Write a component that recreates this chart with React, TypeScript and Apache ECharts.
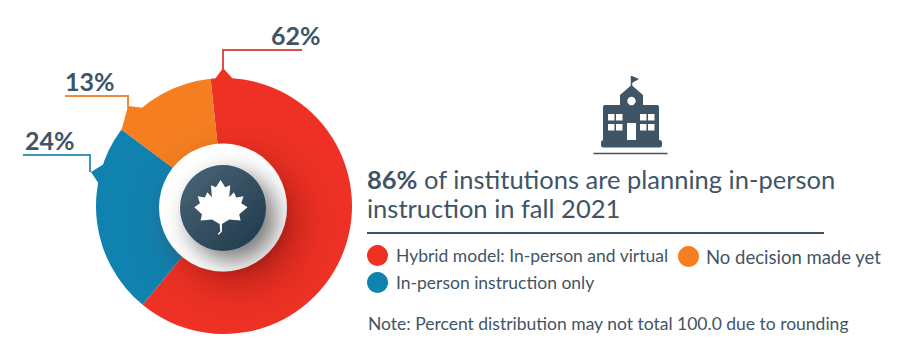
import React, { useEffect, useRef } from "react";
import * as echarts from "echarts";

const categories = ["Hybrid model: In-person and virtual", "In-person instruction only", "No decision made yet"];
const values = [62, 24, 13];
const colors = ["#ee3124", "#1082b0", "#f57e20"];
const lineColors = ["#d9534a", "#3a95b8", "#ee8a3c"];
const headline = ["86%", " of institutions are planning in-person", "instruction in fall 2021"];
const note = "Note: Percent distribution may not total 100.0 due to rounding";

const SLATE = "#3f5566";
const FONT = "Lato";

const leafPts: number[][] = [
  [212, 90], [226, 112], [241, 106], [238, 142], [252, 127], [259, 143], [281, 139], [274, 160], [293, 172], [268, 193],
  [272, 212], [238, 209], [216, 222], [216, 245], [206, 255], [204, 251], [211, 245], [209, 222],
  [186, 209], [152, 212], [156, 193], [133, 172], [150, 160], [143, 139], [165, 143], [172, 127], [186, 142], [183, 106], [198, 112],
];
const leafD = "M" + leafPts.map((p) => p.join(" ")).join("L") + "Z";
echarts.graphic.registerShape("mapleLeaf", echarts.graphic.extendPath(leafD, {}) as any);

const anchors = [
  { x: 271, y: 22, pts: [[223, 70], [223, 50], [302, 50]] },
  { x: 25, y: 127, pts: [[90, 172], [90, 155], [23, 155]] },
  { x: 65, y: 68, pts: [[128, 108], [128, 96], [65, 96]] },
];

const tips = [
  { pts: [[215, 79], [223, 68], [233, 79]], c: colors[0] },
  { pts: [[91, 172], [104, 164], [99, 184]], c: colors[1] },
  { pts: [[128, 106], [144, 108], [121, 132]], c: colors[2] },
];

function winRects(xs: number[], ys: number[]) {
  const out: any[] = [];
  xs.forEach((x) => ys.forEach((y) => out.push({ type: "rect", z: 11, shape: { x, y, width: 6.5, height: 6.5 }, style: { fill: "#fff" } })));
  return out;
}

export default function App() {
  const ref = useRef<HTMLDivElement>(null);
  useEffect(() => {
    const chart = echarts.init(ref.current!, null, { renderer: "svg" });
    chart.setOption({
      animation: false,
      backgroundColor: "#fff",
      color: colors,
      textStyle: { fontFamily: FONT },
      title: {
        left: 367,
        top: 164,
        padding: 0,
        text: `{b|${headline[0]}}{n|${headline[1]}}\n{n|${headline[2]}}`,
        textStyle: {
          fontWeight: "normal",
          rich: {
            b: { fontFamily: FONT, fontWeight: "bold", fontSize: 25.5, lineHeight: 29, color: SLATE },
            n: { fontFamily: FONT, fontWeight: "normal", fontSize: 25.5, lineHeight: 29, color: SLATE },
          },
        },
      },
      legend: [
        {
          left: 367, top: 245, padding: 0, orient: "vertical", itemWidth: 21, itemHeight: 21, itemGap: 6, icon: "circle",
          data: [categories[0], categories[1]],
          textStyle: { fontFamily: FONT, fontSize: 17.5, color: SLATE, padding: [0, 0, 0, 3] },
        },
        {
          left: 678, top: 246, padding: 0, orient: "vertical", itemWidth: 21, itemHeight: 21, icon: "circle",
          data: [categories[2]],
          textStyle: { fontFamily: FONT, fontSize: 18.5, color: SLATE, padding: [0, 0, 0, 2] },
        },
      ],
      series: [
        {
          type: "pie",
          center: [224, 206],
          radius: [0, 128],
          startAngle: 96,
          clockwise: true,
          silent: true,
          data: categories.map((name, i) => ({
            name,
            value: values[i],
            labelLine: { lineStyle: { color: lineColors[i], width: 2 } },
          })),
          label: { show: true, position: "outside", overflow: "none", formatter: "{c}%", fontFamily: FONT, fontWeight: "bold", fontSize: 25, color: SLATE },
          labelLine: { show: true, lineStyle: { width: 2 } },
          labelLayout: (p: any) => {
            const a = anchors[p.dataIndex];
            return { x: a.x, y: a.y, align: "left", verticalAlign: "top", labelLinePoints: a.pts };
          },
          itemStyle: { borderWidth: 0 },
          emphasis: { disabled: true },
        },
      ],
      graphic: [
        ...tips.map((t) => ({ type: "polygon", z: 9, shape: { points: t.pts }, style: { fill: t.c } })),
        { type: "circle", z: 10, shape: { cx: 223, cy: 207.5, r: 64 }, style: { fill: "#fff", shadowBlur: 40, shadowColor: "rgba(90,10,5,0.35)", shadowOffsetX: 14, shadowOffsetY: 14 } },
        { type: "circle", z: 11, shape: { cx: 223, cy: 208, r: 43 }, style: { fill: { type: "linear", x: 0, y: 0, x2: 1, y2: 1, colorStops: [{ offset: 0, color: "#4b6678" }, { offset: 1, color: "#20384a" }] }, shadowBlur: 24, shadowColor: "rgba(0,0,0,0.55)", shadowOffsetX: 10, shadowOffsetY: 10 } },
        { type: "mapleLeaf", z: 12, x: 150, y: 150, scaleX: 1 / 3, scaleY: 1 / 3, style: { fill: "#fff" } },
        // school icon
        { type: "rect", z: 10, shape: { x: 603, y: 105, width: 56, height: 41, r: 2 }, style: { fill: SLATE } },
        { type: "rect", z: 10, shape: { x: 601, y: 140, width: 61, height: 7.5, r: 2.5 }, style: { fill: SLATE } },
        { type: "polygon", z: 10, shape: { points: [[620, 106], [620, 95], [631.5, 85], [643, 95], [643, 106]] }, style: { fill: SLATE } },
        { type: "line", z: 10, shape: { x1: 631.5, y1: 86, x2: 631.5, y2: 76 }, style: { stroke: SLATE, lineWidth: 1.5 } },
        { type: "polygon", z: 10, shape: { points: [[632, 76], [639, 79], [632, 83]] }, style: { fill: SLATE } },
        { type: "circle", z: 11, shape: { cx: 631.5, cy: 101, r: 4.2 }, style: { fill: "#fff" } },
        ...winRects([608, 616, 640, 648], [114, 124]),
        { type: "rect", z: 11, shape: { x: 627, y: 123, width: 9, height: 17 }, style: { fill: "#fff" } },
        { type: "line", z: 10, shape: { x1: 593.5, y1: 153.5, x2: 667.5, y2: 153.5 }, style: { stroke: SLATE, lineWidth: 1.5 } },
        // rule and note
        { type: "line", z: 10, shape: { x1: 367, y1: 233, x2: 824, y2: 233 }, style: { stroke: SLATE, lineWidth: 2.2 } },
        { type: "text", z: 10, x: 368, y: 323, style: { text: note, fontFamily: FONT, fontSize: 17.5, fill: SLATE, verticalAlign: "middle" } },
      ],
    });
    return () => chart.dispose();
  }, []);
  return <div ref={ref} style={{ position: "absolute", left: 0, top: 0, width: 900, height: 356 }} />;
}
